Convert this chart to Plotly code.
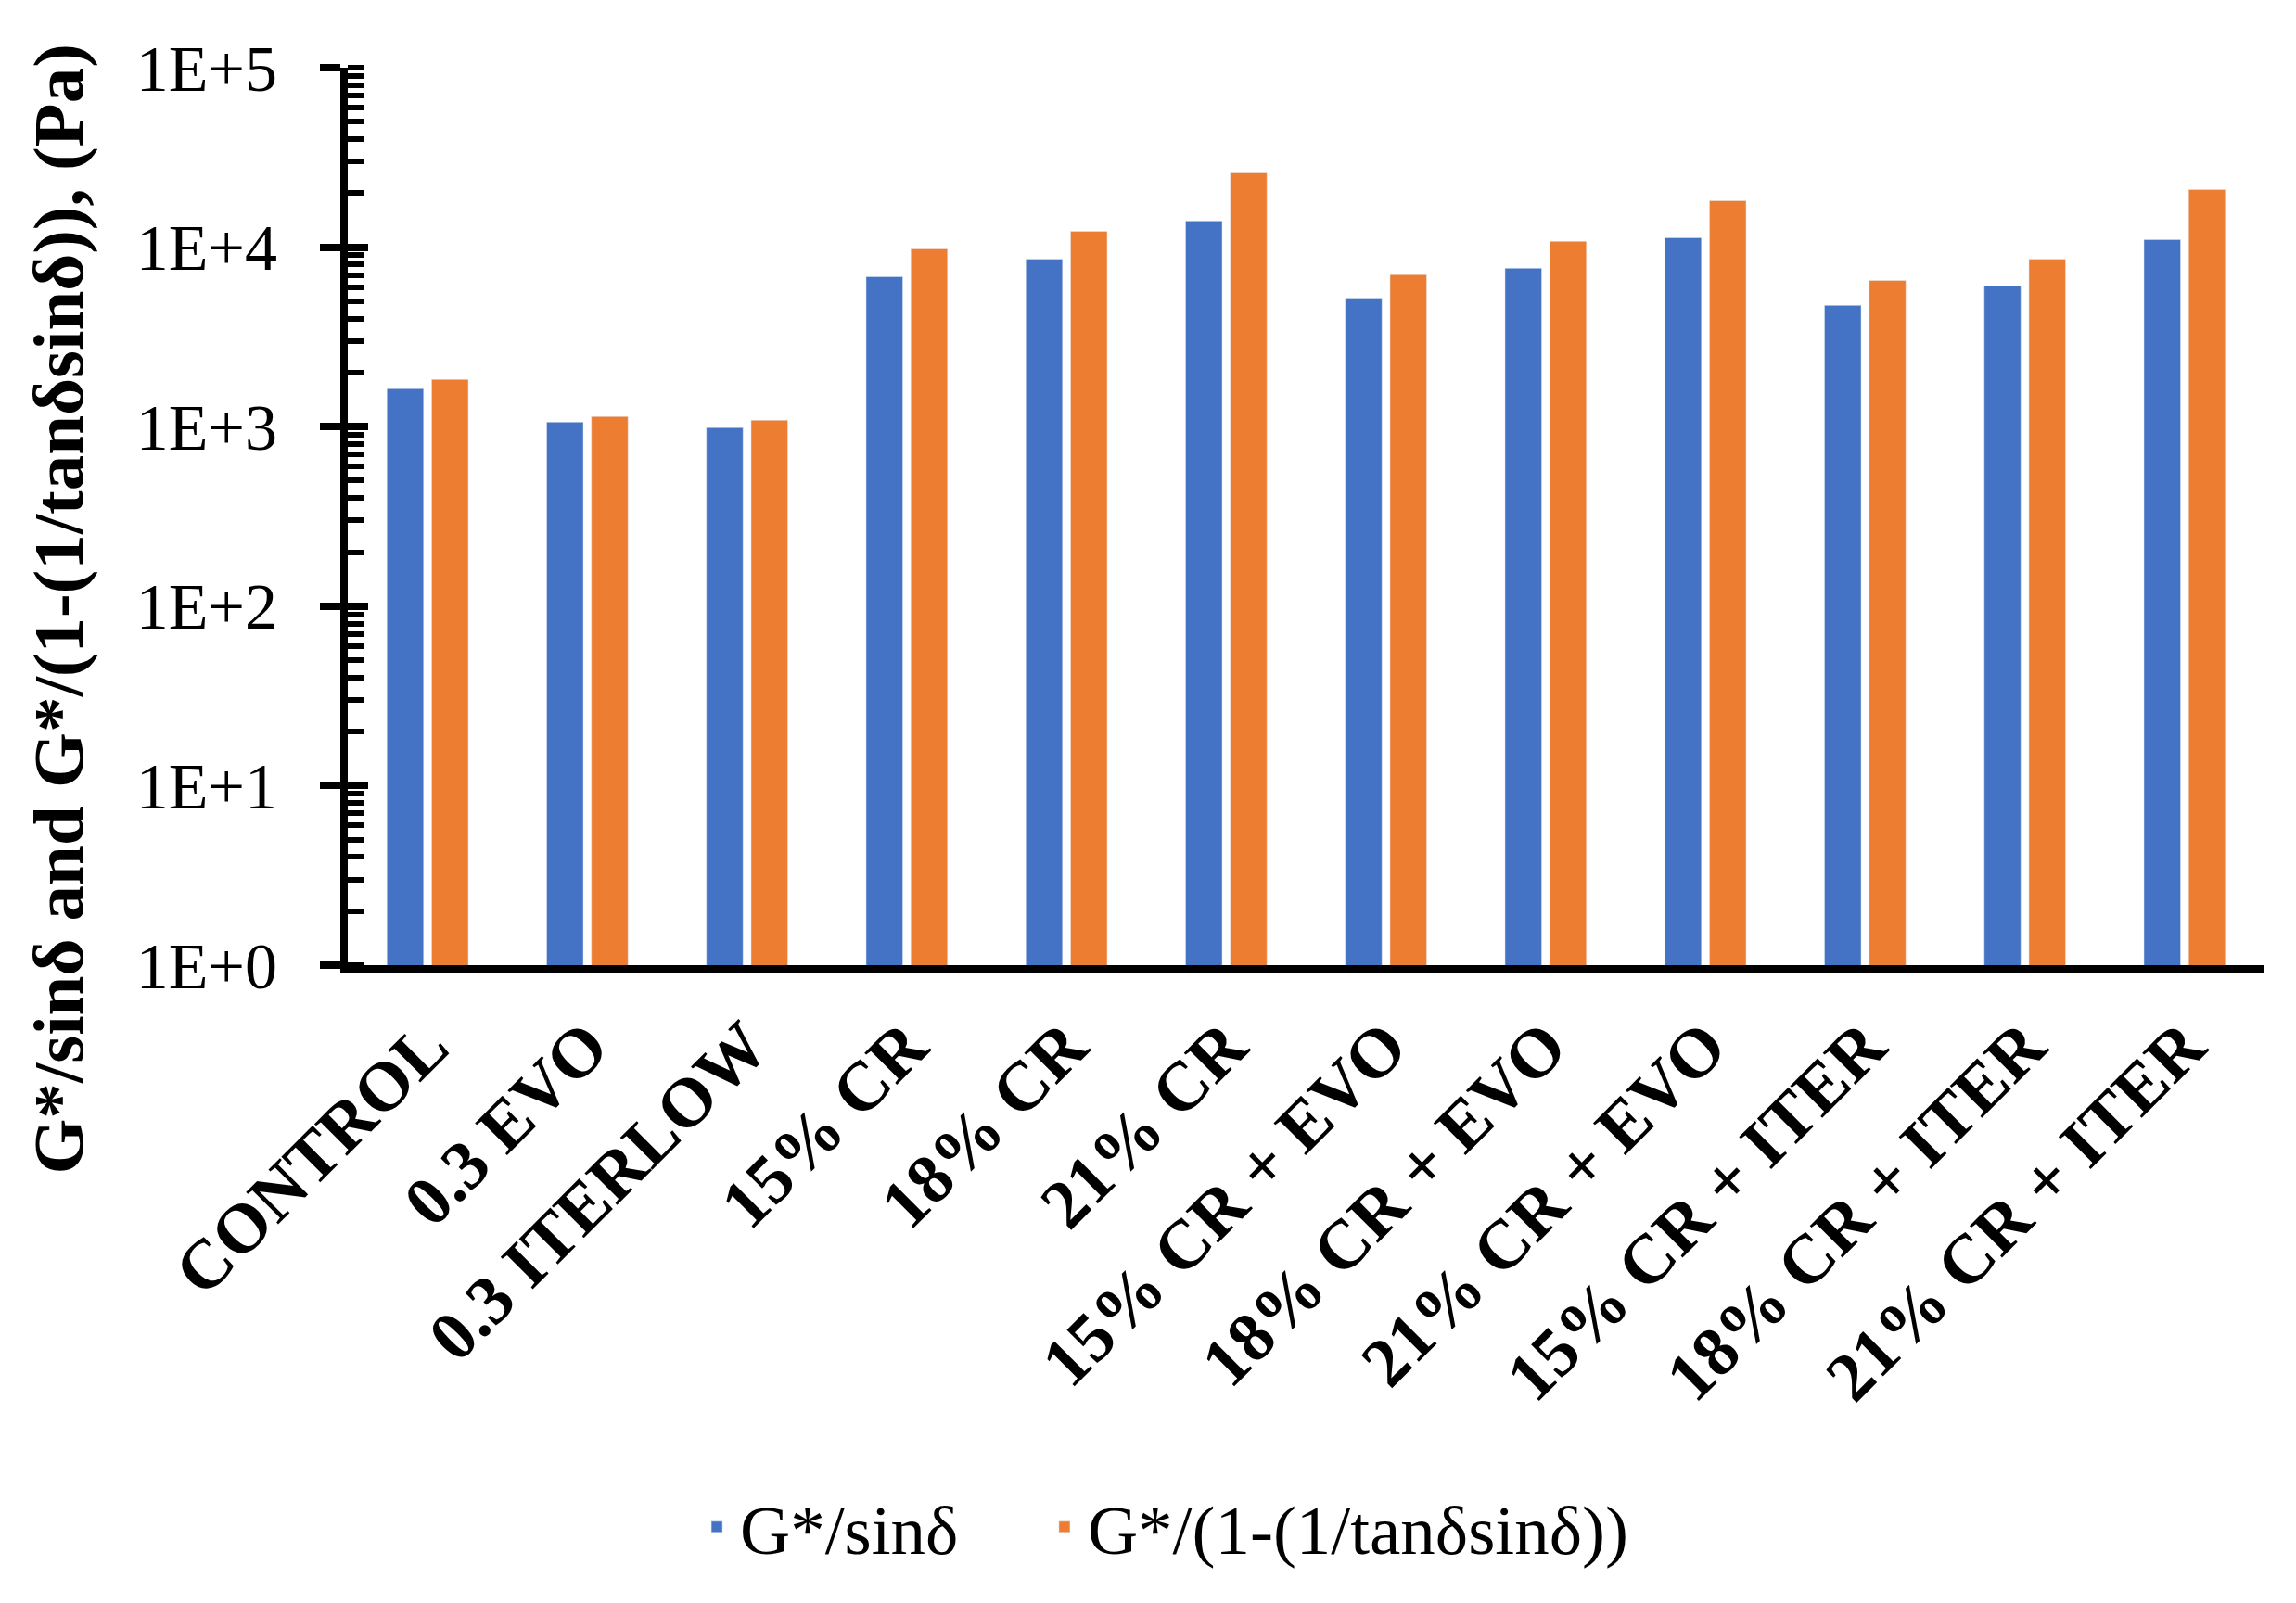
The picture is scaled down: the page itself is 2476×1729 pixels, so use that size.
import plotly.graph_objects as go

categories = ["CONTROL", "0.3 EVO", "0.3 ITERLOW", "15% CR", "18% CR", "21% CR",
              "15% CR + EVO", "18% CR + EVO", "21% CR + EVO",
              "15% CR + ITER", "18% CR + ITER", "21% CR + ITER"]
g_sin = [1626, 1060, 987, 6850, 8590, 13990, 5210, 7630, 11290, 4740, 6085, 11020]
g_tan = [1832, 1138, 1086, 9790, 12270, 25950, 7020, 10770, 18160, 6530, 8590, 20950]
series_names = ["G*/sinδ", "G*/(1-(1/tanδsinδ))"]
tick_vals = [1, 10, 100, 1000, 10000, 100000]
tick_text = ["1E+0", "1E+1", "1E+2", "1E+3", "1E+4", "1E+5"]
y_title = "G*/sinδ and G*/(1-(1/tanδsinδ)), (Pa)"

FONT = "Liberation Serif"
BLUE = "#4472C4"
ORANGE = "#ED7D31"

fig = go.Figure()
fig.add_trace(go.Bar(x=categories, y=g_sin, name=series_names[0], marker_color=BLUE,
                     legend="legend", showlegend=True))
fig.add_trace(go.Bar(x=categories, y=g_tan, name=series_names[1], marker_color=ORANGE,
                     legend="legend2", showlegend=True))
# helper trace for the overlay axis (draws inner half of the major ticks)
fig.add_trace(go.Scatter(x=[], y=[], yaxis="y2", showlegend=False, hoverinfo="skip"))

legend_common = dict(
    orientation="h", xref="container", yref="container",
    xanchor="left", yanchor="middle", y=0.052,
    font=dict(family=FONT, size=75, color="black"),
    itemwidth=40, bgcolor="rgba(0,0,0,0)", visible=True,
)

fig.update_layout(
    width=2476, height=1729,
    showlegend=True,
    paper_bgcolor="white", plot_bgcolor="white",
    margin=dict(l=367, r=42, t=65, b=696),
    barmode="group", bargap=0.44, bargroupgap=0.18,
    font=dict(family=FONT, color="black"),
    xaxis=dict(
        type="category", showline=True, linewidth=8, linecolor="black",
        ticks="", showgrid=False, tickangle=-45,
        tickfont=dict(family=FONT, size=75, weight="bold", color="black"),
        ticklabelstandoff=5,
    ),
    yaxis=dict(
        type="log", range=[0, 5], showline=True, linewidth=8, linecolor="black",
        showgrid=False, zeroline=False,
        ticks="outside", ticklen=22, tickwidth=8, tickcolor="black",
        tickvals=tick_vals, ticktext=tick_text,
        tickfont=dict(family=FONT, size=70, color="black"),
        ticklabelstandoff=32,
        minor=dict(ticks="inside", ticklen=17, tickwidth=6, tickcolor="black",
                   dtick="D1", showgrid=False),
    ),
    yaxis2=dict(
        type="log", range=[0, 5], overlaying="y", side="left",
        showline=False, showgrid=False, zeroline=False,
        ticks="inside", ticklen=22, tickwidth=8, tickcolor="black",
        tickvals=tick_vals, showticklabels=False,
    ),
    legend=dict(legend_common, x=0.2989),
    legend2=dict(legend_common, x=0.4503),
    annotations=[dict(
        text=y_title, textangle=-90, xref="paper", yref="paper",
        x=-0.151, y=0.397, xanchor="center", yanchor="middle", showarrow=False,
        font=dict(family=FONT, size=77, weight="bold", color="black"),
    )],
)

fig.write_html("out.html")
